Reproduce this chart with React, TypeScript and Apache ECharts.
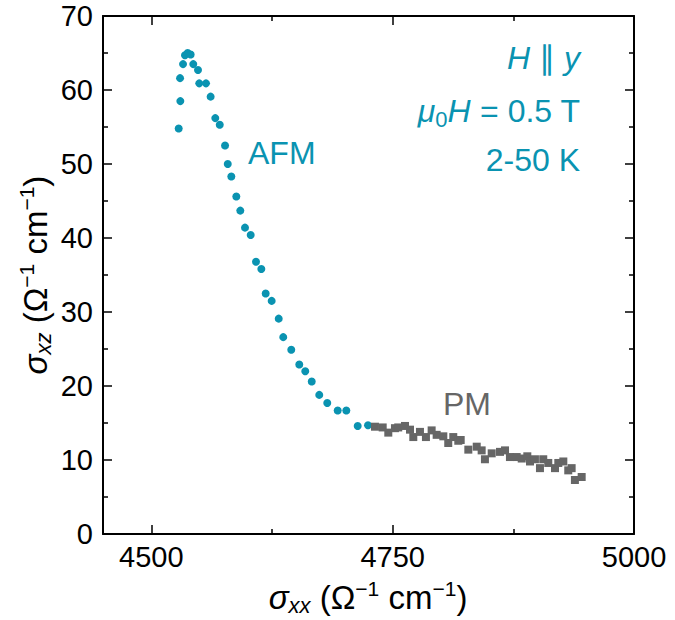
import React, { useEffect, useRef } from "react";
import * as echarts from "echarts";

const afmX = [4528.4, 4530.1, 4529.8, 4532.9, 4534.9, 4537.7, 4540.8, 4543.5, 4548.4, 4549.7, 4556.7, 4561.5, 4566.3, 4570.9, 4576.4, 4579.2, 4582.9, 4588.1, 4592.2, 4597.1, 4603.0, 4608.5, 4614.0, 4618.5, 4624.7, 4632.0, 4636.7, 4645.0, 4653.3, 4659.5, 4666.2, 4674.0, 4682.3, 4693.1, 4702.0, 4713.8, 4724.5];
const afmY = [54.8, 58.5, 61.6, 63.5, 64.7, 65.0, 64.8, 63.5, 62.7, 60.9, 60.9, 59.1, 56.2, 55.3, 52.5, 50.0, 48.3, 45.6, 43.7, 41.4, 40.4, 36.8, 35.8, 32.5, 31.5, 29.1, 26.6, 24.9, 22.9, 22.0, 20.6, 18.8, 17.7, 16.7, 16.7, 14.6, 14.7];

const pmX = [4731.7, 4739.7, 4745.5, 4752.4, 4755.8, 4762.8, 4768.0, 4771.4, 4778.3, 4784.5, 4790.4, 4795.6, 4802.5, 4807.6, 4812.8, 4818.0, 4820.5, 4828.4, 4837.1, 4842.2, 4845.6, 4852.6, 4861.2, 4866.4, 4871.5, 4878.5, 4883.7, 4889.5, 4892.3, 4897.4, 4902.6, 4906.0, 4911.2, 4918.2, 4921.6, 4926.8, 4931.9, 4935.4, 4938.8, 4945.8];
const pmY = [14.5, 14.4, 13.7, 14.3, 14.4, 14.6, 14.1, 13.1, 13.8, 13.1, 14.0, 13.4, 13.2, 12.3, 13.1, 12.6, 12.7, 11.4, 11.8, 11.3, 10.1, 10.9, 11.1, 11.3, 10.4, 10.4, 10.2, 10.5, 9.8, 10.1, 8.9, 10.1, 9.6, 8.9, 9.6, 9.8, 8.6, 8.9, 7.3, 7.7];

const xMajorTicks = [4500, 4750, 5000];
const xMinorTicks = [4625, 4875];
const yMin = 0;
const yMax = 70;
const yInterval = 10;
const xMin = 4450;
const xMax = 5000;

const TEAL = "#0a93b1";
const GREY = "#666666";
const FONT = "'Liberation Sans', Arial, Helvetica, sans-serif";

export default function App() {
  const ref = useRef<HTMLDivElement>(null);
  useEffect(() => {
    if (!ref.current) return;
    const chart = echarts.init(ref.current, undefined, { renderer: "svg" });
    const lineStyle = { color: "#000", width: 2 };
    const tickStyle = { color: "#000", width: 1.5 };
    const xBase = {
      type: "value" as const,
      min: xMin,
      max: xMax,
      splitLine: { show: false },
    };
    const yBase = {
      type: "value" as const,
      min: yMin,
      max: yMax,
      interval: yInterval,
      splitLine: { show: false },
    };
    const richBase = (fs: number, color: string) => {
      const lh = fs + 6;
      const common = { fontFamily: FONT, fill: color, color, lineHeight: lh };
      return {
        i: { ...common, fontSize: fs, fontStyle: "italic" },
        n: { ...common, fontSize: fs },
        sb: { ...common, fontSize: Math.round(fs * 0.68), fontStyle: "italic", verticalAlign: "bottom" },
        sbn: { ...common, fontSize: Math.round(fs * 0.68), verticalAlign: "bottom" },
        sp: { ...common, fontSize: Math.round(fs * 0.65), verticalAlign: "top" },
      };
    };
    const txt = (x: number, y: number, text: string, align: string, fs: number, color: string, rotation = 0) => ({
      type: "text",
      x,
      y,
      rotation,
      style: {
        text,
        align,
        verticalAlign: "middle",
        fill: color,
        fontSize: fs,
        fontFamily: FONT,
        rich: richBase(fs, color),
      },
    });
    const option: any = {
      animation: false,
      backgroundColor: "#fff",
      grid: { left: 103, top: 16, right: 41, bottom: 86, containLabel: false },
      xAxis: [
        {
          ...xBase,
          position: "bottom",
          axisLine: { show: true, lineStyle },
          axisTick: { show: true, inside: true, length: 9, lineStyle: tickStyle, customValues: xMajorTicks },
          axisLabel: { show: true, customValues: xMajorTicks, fontSize: 29, color: "#000", fontFamily: FONT, margin: 8, formatter: (v: number) => String(v) },
        },
        {
          ...xBase,
          position: "bottom",
          axisLine: { show: false },
          axisTick: { show: true, inside: true, length: 5, lineStyle: tickStyle, customValues: xMinorTicks },
          axisLabel: { show: false },
        },
        {
          ...xBase,
          position: "top",
          axisLine: { show: true, lineStyle },
          axisTick: { show: true, inside: true, length: 9, lineStyle: tickStyle, customValues: xMajorTicks },
          axisLabel: { show: false },
        },
        {
          ...xBase,
          position: "top",
          axisLine: { show: false },
          axisTick: { show: true, inside: true, length: 5, lineStyle: tickStyle, customValues: xMinorTicks },
          axisLabel: { show: false },
        },
      ],
      yAxis: [
        {
          ...yBase,
          position: "left",
          axisLine: { show: true, lineStyle },
          axisTick: { show: true, inside: true, length: 9, lineStyle: tickStyle },
          minorTick: { show: true, splitNumber: 2, length: 5, lineStyle: tickStyle },
          axisLabel: { show: true, fontSize: 29, color: "#000", fontFamily: FONT, margin: 10, formatter: (v: number) => String(v) },
        },
        {
          ...yBase,
          position: "right",
          axisLine: { show: true, lineStyle },
          axisTick: { show: true, inside: true, length: 9, lineStyle: tickStyle },
          minorTick: { show: true, splitNumber: 2, length: 5, lineStyle: tickStyle },
          axisLabel: { show: false },
        },
      ],
      series: [
        {
          type: "scatter",
          xAxisIndex: 0,
          yAxisIndex: 0,
          symbol: "circle",
          symbolSize: 8,
          itemStyle: { color: TEAL, opacity: 1 },
          data: afmX.map((x, i) => [x, afmY[i]]),
        },
        {
          type: "scatter",
          xAxisIndex: 0,
          yAxisIndex: 0,
          symbol: "rect",
          symbolSize: 8,
          itemStyle: { color: GREY, opacity: 1 },
          data: pmX.map((x, i) => [x, pmY[i]]),
        },
      ],
      graphic: [
        txt(580, 58, "{i|H} {n|∥} {i|y}", "right", 32, TEAL),
        txt(580, 111, "{i|μ}{sbn|0}{i|H}{n| = 0.5 T}", "right", 32, TEAL),
        txt(580, 160, "{n|2-50 K}", "right", 32, TEAL),
        txt(248, 153, "{n|AFM}", "left", 32, TEAL),
        txt(443, 404, "{n|PM}", "left", 32, GREY),
        txt(368, 597, "{i|σ}{sb|xx}{n| (Ω}{sp|−1}{n| cm}{sp|−1}{n|)}", "center", 33, "#000"),
        txt(35, 275, "{i|σ}{sb|xz}{n| (Ω}{sp|−1}{n| cm}{sp|−1}{n|)}", "center", 33, "#000", Math.PI / 2),
      ],
    };
    chart.setOption(option);
    return () => chart.dispose();
  }, []);
  return (
    <div
      ref={ref}
      style={{ position: "absolute", left: 0, top: 0, width: 675, height: 620 }}
    />
  );
}
